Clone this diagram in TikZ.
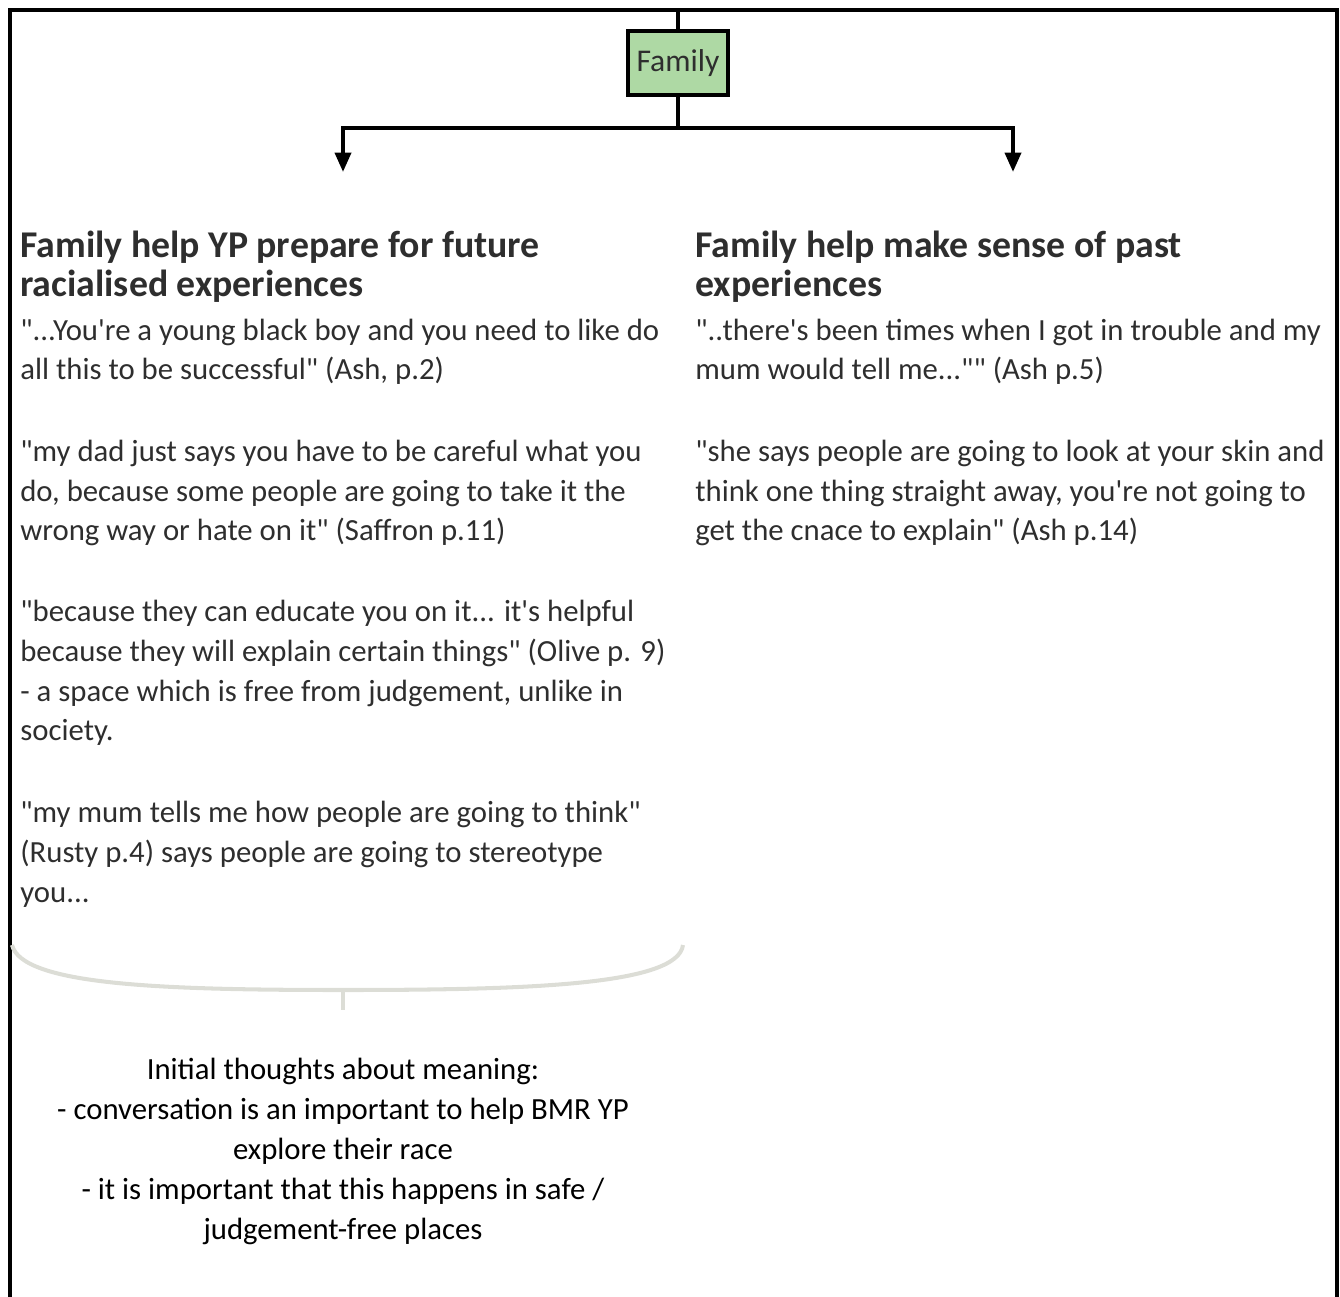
\documentclass[tikz,border=0pt]{standalone}
\usepackage{fontspec}
\setmainfont{Carlito}[Ligatures=TeXOff]
\usetikzlibrary{arrows.meta,positioning}

\definecolor{famgreen}{HTML}{AED9A4}
\definecolor{bracegray}{HTML}{DCDDD6}
\definecolor{inkgray}{HTML}{2E2E2E}

\tikzset{
  frameline/.style={line width=2.3pt, black},
  link/.style={line width=2.3pt, black, -{Triangle[width=9pt,length=11pt]}},
  famBox/.style={draw=black, line width=2.3pt, fill=famgreen, minimum width=57pt, minimum height=36pt, inner sep=0pt, font=\fontsize{18}{20}\selectfont, text=inkgray},
  headText/.style={anchor=base west, inner sep=0pt, align=left, text=inkgray, font=\fontsize{21.5}{22.7}\selectfont\bfseries},
  quoteText/.style={anchor=base west, inner sep=0pt, align=left, text=inkgray, font=\fontsize{17.5}{22.7}\selectfont},
  noteText/.style={anchor=base, inner sep=0pt, align=center, text=black, font=\fontsize{17.5}{22.7}\selectfont},
  braceLine/.style={line width=2.3pt, bracegray}
}

\begin{document}
\begin{tikzpicture}[x=0.02cm, y=-0.02cm]
		%%%%% frame %%%%%
		\useasboundingbox (0,0) rectangle (1340,1297);
		\draw[frameline] (10,1297) -- (10,10) -- (1337,10) -- (1337,1297);
		
		%%%%% family box and links %%%%%
		\node[famBox] (family) at (678,63) {Family};
		\coordinate (topEnd) at (678,10);
		\coordinate (split) at (678,128);
		\coordinate (leftTip) at (343,172);
		\coordinate (rightTip) at (1013,172);
		\draw[line width=2.3pt] (family.north) -- (topEnd);
		\draw[line width=2.3pt] (family.south) -- (split);
		\draw[link] (split) -| (leftTip);
		\draw[link] (split) -| (rightTip);
		
		%%%%% left column (placed by last baseline) %%%%%
		\node[headText] (futHead) at (20,297) {Family help YP prepare for future\\racialised experiences};
		\node[quoteText] (ashQuote) at (20,380) {"...You're a young black boy and you need to like do\\all this to be successful" (Ash, p.2)};
		\node[quoteText] (saffronQuote) at (20,541) {"my dad just says you have to be careful what you\\do, because some people are going to take it the\\wrong way or hate on it" (Saffron p.11)};
		\node[quoteText] (oliveQuote) at (20,741) {"because they can educate you on it... it's helpful\\because they will explain certain things" (Olive p. 9)\\- a space which is free from judgement, unlike in\\society.};
		\node[quoteText] (rustyQuote) at (20,902) {"my mum tells me how people are going to think"\\(Rusty p.4) says people are going to stereotype\\you...};
		
		%%%%% right column %%%%%
		\node[headText] (pastHead) at (695,297) {Family help make sense of past\\experiences};
		\node[quoteText] (ashQuoteA) at (695,380) {"..there's been times when I got in trouble and my\\mum would tell me..."" (Ash p.5)};
		\node[quoteText] (ashQuoteB) at (695,541) {"she says people are going to look at your skin and\\think one thing straight away, you're not going to\\get the cnace to explain" (Ash p.14)};
		
		%%%%% brace and note %%%%%
		\coordinate (braceL) at (12,945);
		\coordinate (braceM) at (343,990);
		\coordinate (braceR) at (683,945);
		\coordinate (stemEnd) at (343,1010);
		\draw[braceLine] (braceL) .. controls (22,985) and (160,990) .. (braceM) .. controls (530,990) and (678,985) .. (braceR);
		\draw[braceLine] (braceM) -- (stemEnd);
		
		\node[noteText] (meaning) at (343,1239) {Initial thoughts about meaning:\\- conversation is an important to help BMR YP\\explore their race\\- it is important that this happens in safe /\\judgement-free places};
\end{tikzpicture}
\end{document}
